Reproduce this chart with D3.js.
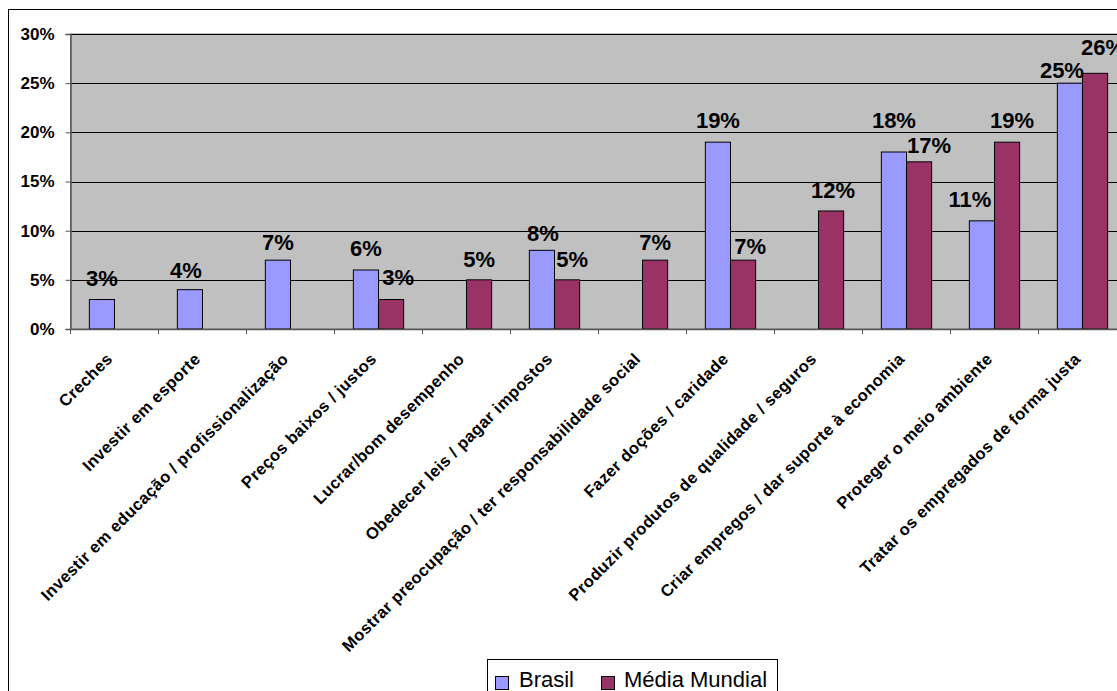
<!DOCTYPE html>
<html>
<head>
<meta charset="utf-8">
<script src="https://cdn.jsdelivr.net/npm/d3@7"></script>
<style>
  html, body { margin: 0; padding: 0; background: #fff; overflow: hidden; }
  svg { display: block; font-family: Arial, "Liberation Sans", sans-serif; }
</style>
</head>
<body>
<svg id="chart" width="1117" height="691"></svg>
<script>
// Categories and series (percent)
const categories = [
  "Creches",
  "Investir em esporte",
  "Investir em educação / profissionalização",
  "Preços baixos / justos",
  "Lucrar/bom desempenho",
  "Obedecer leis / pagar impostos",
  "Mostrar preocupação / ter responsabilidade social",
  "Fazer doções / caridade",
  "Produzir produtos de qualidade / seguros",
  "Criar empregos / dar suporte à economia",
  "Proteger o meio ambiente",
  "Tratar os empregados de forma justa"
];
const brasil       = [3, 4, 7, 6, null, 8, null, 19, null, 18, 11, 25];
const mediaMundial = [null, null, null, 3, 5, 5, 7, 7, 12, 17, 19, 26];
const seriesNames  = ["Brasil", "Média Mundial"];
const seriesColors = ["#9999FF", "#993366"];
const yTicks = [0, 5, 10, 15, 20, 25, 30];

// hand-placed data-label nudges: [dx, gap above bar top] in px
const labelPosBrasil = [[0, 13.5], [-4, 12], [0, 10], [0, 14], null, [1, 9], null, [0, 14], null, [0, 24], [-12, 14], [-8, 5]];
const labelPosMedia  = [null, null, null, [7, 14.5], [0, 13], [5, 13], [0, 10], [7, 6], [2, 13], [10, 9], [5, 14], [8, 18]];

const svg = d3.select("#chart");

// outer chart frame
svg.append("rect")
  .attr("x", 8.5).attr("y", 9.5)
  .attr("width", 1200).attr("height", 800)
  .attr("fill", "#fff").attr("stroke", "#000").attr("stroke-width", 1);

const plot = { left: 70.5, top: 34, right: 70.5 + 88 * 12, bottom: 329 };

// category bands; two bars per band with a 150% gap width
const xCat = d3.scaleBand().domain(categories).range([plot.left, plot.right]).padding(0);
const barW = xCat.bandwidth() / 3.5;
const xSeries = d3.scaleBand().domain(seriesNames).range([barW * 0.75, barW * 2.75]);

const y = d3.scaleLinear().domain([0, 30]).range([plot.bottom, plot.top]);

// plot background
svg.append("rect")
  .attr("x", plot.left).attr("y", plot.top)
  .attr("width", plot.right - plot.left).attr("height", plot.bottom - plot.top)
  .attr("fill", "#C0C0C0").attr("stroke", "#808080");

// gridlines
svg.append("g")
  .selectAll("line")
  .data(yTicks.filter(d => d > 0))
  .join("line")
  .attr("x1", plot.left).attr("x2", plot.right)
  .attr("y1", d => Math.round(y(d)) + 0.5).attr("y2", d => Math.round(y(d)) + 0.5)
  .attr("stroke", "#000").attr("stroke-width", 1);

// y axis
const yAxis = d3.axisLeft(y)
  .tickValues(yTicks)
  .tickFormat(d => d + "%")
  .tickSize(5)
  .tickPadding(11);
const gy = svg.append("g")
  .attr("transform", `translate(${plot.left},0)`)
  .call(yAxis);
gy.select(".domain").attr("stroke", "#555").attr("stroke-width", 1.5);
gy.selectAll(".tick line").attr("stroke", "#555");
gy.selectAll(".tick text")
  .attr("font-size", 17).attr("font-weight", "bold").attr("fill", "#000")
  .attr("font-family", "Arial, 'Liberation Sans', sans-serif");

// bars
const series = [brasil, mediaMundial];
const labelPos = [labelPosBrasil, labelPosMedia];
series.forEach((vals, si) => {
  const data = categories.map((c, i) => ({ c, v: vals[i] })).filter(d => d.v != null);
  svg.append("g")
    .selectAll("rect")
    .data(data)
    .join("rect")
    .attr("x", d => xCat(d.c) + xSeries(seriesNames[si]))
    .attr("y", d => y(d.v))
    .attr("width", xSeries.bandwidth())
    .attr("height", d => y(0) - y(d.v))
    .attr("fill", seriesColors[si])
    .attr("stroke", "#000").attr("stroke-width", 1);
});

// x axis
const gx = svg.append("g")
  .attr("transform", `translate(0,${plot.bottom})`)
  .call(d3.axisBottom(xCat).tickSize(0).tickFormat(""));
gx.select(".domain").attr("stroke", "#555").attr("stroke-width", 1.5);
// category boundary ticks
svg.append("g")
  .selectAll("line")
  .data(d3.range(categories.length + 1))
  .join("line")
  .attr("x1", i => plot.left + i * xCat.step())
  .attr("x2", i => plot.left + i * xCat.step())
  .attr("y1", plot.bottom).attr("y2", plot.bottom + 5)
  .attr("stroke", "#555");

// rotated category labels
svg.append("g")
  .selectAll("text")
  .data(categories)
  .join("text")
  .attr("transform", d => `translate(${xCat(d) + xCat.bandwidth() / 2 - 1},${plot.bottom + 31}) rotate(-45)`)
  .attr("text-anchor", "end")
  .attr("font-size", 16.5)
  .attr("font-weight", "bold")
  .attr("letter-spacing", 0.4)
  .text(d => d);

// value labels
series.forEach((vals, si) => {
  const data = categories.map((c, i) => ({ c, v: vals[i], p: labelPos[si][i] })).filter(d => d.v != null);
  svg.append("g")
    .selectAll("text")
    .data(data)
    .join("text")
    .attr("x", d => xCat(d.c) + xSeries(seriesNames[si]) + xSeries.bandwidth() / 2 + d.p[0])
    .attr("y", d => y(d.v) - d.p[1])
    .attr("text-anchor", "middle")
    .attr("font-size", 22)
    .attr("font-weight", "bold")
    .text(d => d.v + "%");
});

// legend
const legend = svg.append("g");
legend.append("rect")
  .attr("x", 487.5).attr("y", 659.5).attr("width", 290).attr("height", 60)
  .attr("fill", "#fff").attr("stroke", "#000");
const legendItems = [
  { name: seriesNames[0], color: seriesColors[0], sx: 495, tx: 519 },
  { name: seriesNames[1], color: seriesColors[1], sx: 601, tx: 624 }
];
legendItems.forEach(it => {
  legend.append("rect")
    .attr("x", it.sx + 0.5).attr("y", 676.5).attr("width", 13).attr("height", 13)
    .attr("fill", it.color).attr("stroke", "#000");
  legend.append("text")
    .attr("x", it.tx).attr("y", 687)
    .attr("font-size", 22)
    .text(it.name);
});
</script>
</body>
</html>
